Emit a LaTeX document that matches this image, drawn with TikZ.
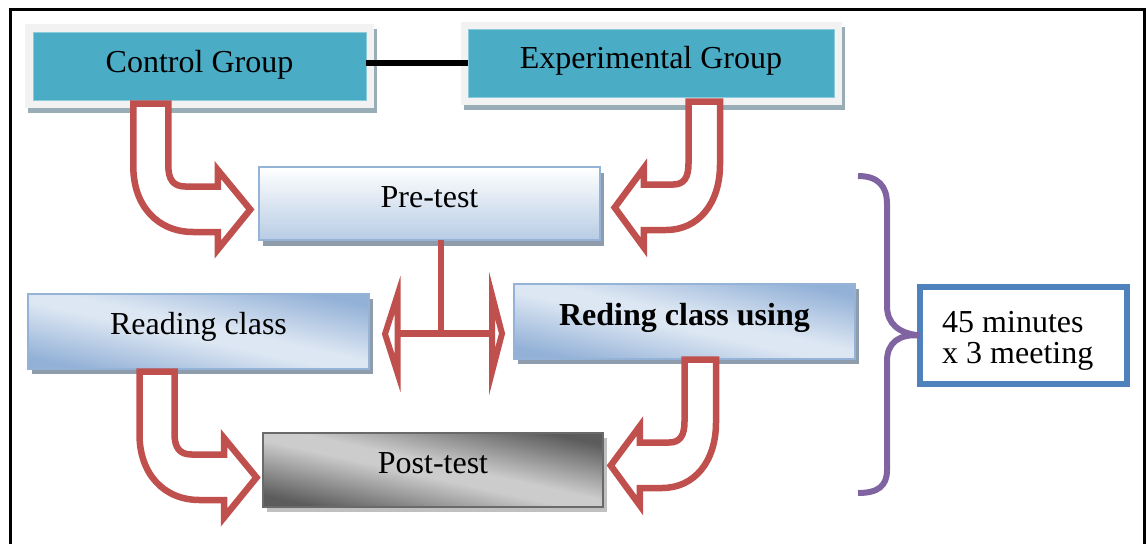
\documentclass[tikz,border=0pt]{standalone}
\usepackage{fontspec}
\setmainfont{Liberation Serif}
\usetikzlibrary{shadows,calc}

% palette
\definecolor{grpTeal}{HTML}{4BACC6}
\definecolor{grpEdge}{HTML}{8CCBDC}
\definecolor{frameGray}{HTML}{F2F2F2}
\definecolor{grpShadow}{HTML}{98ADB5}
\definecolor{boxEdge}{HTML}{95B3D7}
\definecolor{boxShadow}{HTML}{8E9CAC}
\definecolor{preBottom}{HTML}{B8CCE4}
\definecolor{sheenDark}{HTML}{93B1D7}
\definecolor{sheenLight}{HTML}{DDE7F3}
\definecolor{postDark}{HTML}{5C5C5C}
\definecolor{postLight}{HTML}{CCCCCC}
\definecolor{postEdge}{HTML}{6A6A6A}
\definecolor{postShadow}{HTML}{C0C0C0}
\definecolor{arrowRed}{HTML}{C0504D}
\definecolor{bracePurple}{HTML}{8064A2}
\definecolor{noteBlue}{HTML}{4F81BD}

% diagonal sheen used by the class boxes and the post-test box
\pgfdeclarehorizontalshading{blueSheen}{100bp}{color(0bp)=(sheenDark); color(25bp)=(sheenDark); color(47bp)=(sheenLight); color(53bp)=(sheenLight); color(75bp)=(sheenDark); color(100bp)=(sheenDark)}
\pgfdeclarehorizontalshading{graySheen}{100bp}{color(0bp)=(postDark); color(25bp)=(postDark); color(47bp)=(postLight); color(53bp)=(postLight); color(75bp)=(postDark); color(100bp)=(postDark)}

\tikzset{
  box/.style={inner sep=0pt, outer sep=0pt, font=\fontsize{32}{38}\selectfont, text depth=0pt},
  grpframe/.style={box, fill=frameGray,
    drop shadow={shadow xshift=3pt, shadow yshift=-5pt, fill=grpShadow, opacity=1}},
  grp/.style={box, fill=grpTeal, draw=grpEdge, line width=0.8pt},
  pretest/.style={box, draw=boxEdge, line width=2pt, top color=white, bottom color=preBottom,
    drop shadow={shadow xshift=4pt, shadow yshift=-6pt, fill=boxShadow, opacity=1}},
  classbox/.style={box, draw=boxEdge, line width=2pt, shading=blueSheen, shading angle=77.6,
    drop shadow={shadow xshift=4pt, shadow yshift=-5pt, fill=boxShadow, opacity=1}},
  postbox/.style={box, draw=postEdge, line width=2.5pt, shading=graySheen, shading angle=77.6,
    drop shadow={shadow xshift=4pt, shadow yshift=-5pt, fill=postShadow, opacity=1}},
  bent/.style={draw=arrowRed, fill=white, line width=6.5pt, line join=miter},
  tconn/.style={draw=arrowRed, line width=6.5pt},
  thead/.style={draw=arrowRed, fill=white, line width=6pt, line join=miter},
  grouplink/.style={draw=black, line width=6pt},
  brace/.style={draw=bracePurple, line width=6pt},
  notebox/.style={draw=noteBlue, line width=6pt, inner sep=0pt, outer sep=0pt},
  bentarrow/.pic={
    \draw[bent] (0,0) -- (0,63) .. controls (0,102) and (24,128.5) .. (60,128.5)
      -- (84.5,128.5) -- (84.5,146) -- (117,106) -- (84.5,66.5) -- (84.5,83)
      -- (52,83) .. controls (40,83) and (35,76) .. (35,62) -- (35,0) -- cycle;
  },
}

\begin{document}
\begin{tikzpicture}[x=1pt, y=-1pt]
\useasboundingbox (0,0) rectangle (1147,543);
\clip (0,0) rectangle (1147,543);

% outer frame
\draw[line width=3pt] (10.5,560) -- (10.5,9.5) -- (1144,9.5) -- (1144,560);

% group boxes
\node[grpframe, minimum width=349pt, minimum height=84pt] (cgf) at (199.5,66) {};
\node[grp, minimum width=333pt, minimum height=68pt, text height=12pt] (cg) at (199.5,66) {Control Group};
\node[grpframe, minimum width=381pt, minimum height=83pt] (egf) at (651.5,63.5) {};
\node[grp, minimum width=366pt, minimum height=68pt, text height=11pt] (eg) at (651,63) {Experimental Group};
\path[grouplink] (eg.west -| cg.east) -- (eg.west);

% tests and classes
\node[pretest, minimum width=341pt, minimum height=73pt, text height=7pt] (pre) at (429.5,203.5) {Pre-test};
\node[classbox, minimum width=341pt, minimum height=75pt, text height=5pt] (rc) at (198.5,331.5) {Reading class};
\node[classbox, minimum width=341pt, minimum height=75pt, text height=7pt] (rcu) at (684.5,321.5) {\bfseries Reding class using};
\node[postbox, minimum width=340pt, minimum height=74pt, text height=6pt] (post) at (433,470) {Post-test};

% bent block arrows
\pic at (133.3,103.5) {bentarrow};
\pic[xscale=-0.9] at (720,101.5) {bentarrow};
\pic at (139.5,371.5) {bentarrow};
\pic[xscale=-0.9] at (716,359.5) {bentarrow};

% split from the pre-test into both classes
\coordinate (tj) at (441,333.5);
\coordinate (lh) at (397.5,333.5);
\coordinate (rh) at (492,333.5);
\draw[tconn] (pre.south -| tj) -- (tj);
\draw[tconn] (lh) -- (rh);
\draw[thead] (397.5,295) -- (385,334) -- (397.5,373) -- cycle;
\draw[thead] (492,295) -- (502,333.5) -- (492,372) -- cycle;

% time note
\node[notebox, minimum width=207pt, minimum height=97pt] (mt) at (1023.5,335.5) {};
\begin{scope}
  \clip (923,290) rectangle (1124,372);
  \node[inner sep=0pt, anchor=base west, align=left, font=\fontsize{32}{31}\selectfont] (mtxt) at (942,363) {45 minutes\\x 3 meeting};
\end{scope}

% brace spanning the treatment phase
\draw[brace] (858,176) .. controls (878,176) and (887,186) .. (887,204) -- (887,306)
  .. controls (887,324) and (899,333.5) .. (mt.west)
  .. controls (899,333.5) and (887,343) .. (887,361) -- (887,470)
  .. controls (887,486) and (878,493) .. (858,493);
\end{tikzpicture}
\end{document}
